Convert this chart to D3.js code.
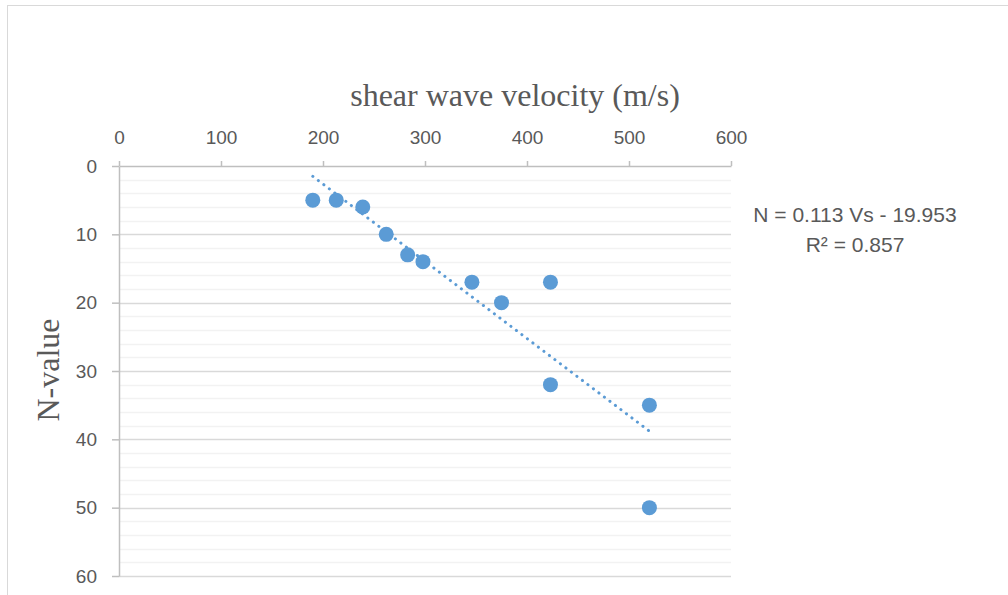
<!DOCTYPE html>
<html>
<head>
<meta charset="utf-8">
<script src="https://cdn.jsdelivr.net/npm/d3@7"></script>
<style>
  html, body { margin: 0; padding: 0; background: #fff; }
  svg { display: block; }
  .tick text { font-family: "Liberation Sans", Arial, sans-serif; font-size: 19px; fill: #595959; }
</style>
</head>
<body>
<div id="chart"></div>
<script>
// shear wave velocity (m/s) and N-value
const velocity = [190, 213, 239, 262, 283, 298, 346, 375, 423, 423, 520, 520];
const nValue = [5, 5, 6, 10, 13, 14, 17, 20, 17, 32, 35, 50];
const xTicks = [0, 100, 200, 300, 400, 500, 600];
const yTicks = [0, 10, 20, 30, 40, 50, 60];
const trendSlope = 0.113;
const trendIntercept = -19.953;
const trendLabel = ['N = 0.113 Vs - 19.953', 'R² = 0.857'];

const width = 1008, height = 595;
const margin = { top: 166, left: 119, right: 277, bottom: 19 };
const blue = '#5b9bd5';

const svg = d3.select('#chart').append('svg')
    .attr('width', width)
    .attr('height', height);

// chart frame, cut at right and bottom like the original
svg.append('rect')
    .attr('x', 7.5).attr('y', 5.5)
    .attr('width', width + 20).attr('height', height + 20)
    .attr('fill', 'none')
    .attr('stroke', '#d9d9d9');

const x = d3.scaleLinear().domain([0, 600]).range([margin.left, width - margin.right]);
const y = d3.scaleLinear().domain([0, 60]).range([margin.top, height - margin.bottom]);

// minor gridlines every 2
svg.append('g')
    .selectAll('line')
    .data(d3.range(2, 60, 2).filter((d) => d % 10 !== 0))
    .join('line')
    .attr('x1', x(0)).attr('x2', x(600))
    .attr('y1', (d) => Math.round(y(d)) + 0.5)
    .attr('y2', (d) => Math.round(y(d)) + 0.5)
    .attr('stroke', '#f2f2f2')
    .attr('stroke-width', 1.5);

// major gridlines
svg.append('g')
    .selectAll('line')
    .data(yTicks.slice(1))
    .join('line')
    .attr('x1', x(0)).attr('x2', x(600))
    .attr('y1', (d) => Math.round(y(d)) + 0.5)
    .attr('y2', (d) => Math.round(y(d)) + 0.5)
    .attr('stroke', '#d9d9d9')
    .attr('stroke-width', 1.5);

const xAxis = svg.append('g')
    .attr('transform', `translate(0,${margin.top})`)
    .call(d3.axisTop(x).tickValues(xTicks).tickSize(5).tickPadding(17).tickSizeOuter(0));

const yAxis = svg.append('g')
    .attr('transform', `translate(${margin.left},0)`)
    .call(d3.axisLeft(y).tickValues(yTicks).tickSize(7).tickPadding(15).tickSizeOuter(0));

[xAxis, yAxis].forEach((g) => {
  g.select('.domain').attr('stroke', '#bfbfbf').attr('stroke-width', 1.5);
  g.selectAll('.tick line').attr('stroke', '#bfbfbf').attr('stroke-width', 1.5);
});

// axis titles
svg.append('text')
    .attr('x', 515).attr('y', 106)
    .attr('text-anchor', 'middle')
    .attr('font-family', '"Liberation Serif", "Times New Roman", serif')
    .attr('font-size', 32)
    .attr('fill', '#595959')
    .text('shear wave velocity (m/s)');

svg.append('text')
    .attr('transform', 'translate(59,370) rotate(-90)')
    .attr('text-anchor', 'middle')
    .attr('font-family', '"Liberation Serif", "Times New Roman", serif')
    .attr('font-size', 32)
    .attr('fill', '#595959')
    .text('N-value');

// linear trendline
const xMin = d3.min(velocity), xMax = d3.max(velocity);
svg.append('line')
    .attr('x1', x(xMin)).attr('y1', y(trendSlope * xMin + trendIntercept))
    .attr('x2', x(xMax)).attr('y2', y(trendSlope * xMax + trendIntercept))
    .attr('stroke', blue)
    .attr('stroke-width', 3)
    .attr('stroke-linecap', 'round')
    .attr('stroke-dasharray', '0.1 6.8');

// points
svg.append('g')
    .selectAll('circle')
    .data(velocity.map((v, i) => [v, nValue[i]]))
    .join('circle')
    .attr('cx', (d) => x(d[0]))
    .attr('cy', (d) => y(d[1]))
    .attr('r', 7.5)
    .attr('fill', blue);

// equation label
svg.append('text')
    .attr('x', 855).attr('y', 222)
    .attr('text-anchor', 'middle')
    .attr('font-family', '"Liberation Sans", Arial, sans-serif')
    .attr('font-size', 21)
    .attr('fill', '#595959')
    .selectAll('tspan')
    .data(trendLabel)
    .join('tspan')
    .attr('x', 855)
    .attr('dy', (d, i) => i === 0 ? 0 : 30)
    .text((d) => d);
</script>
</body>
</html>
